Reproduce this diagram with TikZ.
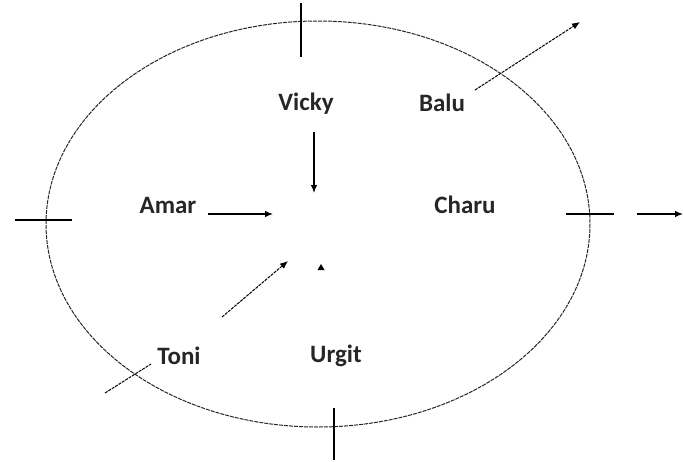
\documentclass[tikz,border=0pt]{standalone}
\usepackage{fontspec}
\setmainfont{Carlito}
\usetikzlibrary{arrows.meta}
\tikzset{
  lbl/.style={font=\fontsize{25}{27}\selectfont\bfseries, inner sep=0pt, text=black!85},
  tick/.style={line width=1.2pt, black},
  arr/.style={line width=1.2pt, -{Latex[length=8pt,width=6.5pt]}},
  darr/.style={line width=1pt, dash pattern=on 3pt off 1pt, -{Latex[length=8pt,width=6.5pt]}},
  dline/.style={line width=1pt, dash pattern=on 3pt off 1pt},
  rim/.style={line width=1pt, black!85, dash pattern=on 4pt off 1pt}
}
\begin{document}
\begin{tikzpicture}[x=1pt,y=-1pt]
\useasboundingbox (0,0) rectangle (683,461);
% outer circle
\draw[rim] (318,224) ellipse [x radius=272, y radius=203];
% ticks
\coordinate (t1) at (301,3);   \coordinate (t2) at (301,57);
\coordinate (l1) at (15,220);  \coordinate (l2) at (72,220);
\coordinate (r1) at (566,214); \coordinate (r2) at (614,214);
\coordinate (b1) at (334,408); \coordinate (b2) at (334,460);
\draw[tick] (t1) -- (t2);
\draw[tick] (l1) -- (l2);
\draw[tick] (r1) -- (r2);
\draw[tick] (b1) -- (b2);
% labels
\node[lbl] (vicky) at (306,104) {Vicky};
\node[lbl] (balu)  at (442,103) {Balu};
\node[lbl] (amar)  at (168,205) {Amar};
\node[lbl] (charu) at (465,205) {Charu};
\node[lbl] (toni)  at (179,356) {Toni};
\node[lbl] (urgit) at (336,356) {Urgit};
% arrows
\coordinate (vs) at (314,132); \coordinate (ve) at (314,193);
\coordinate (as) at (208,214); \coordinate (ae) at (273,214);
\coordinate (ts) at (222,317); \coordinate (te) at (288,261);
\coordinate (bs) at (475,90);  \coordinate (be) at (580,22);
\coordinate (cs) at (637,214); \coordinate (ce) at (683,214);
\coordinate (os) at (105,393); \coordinate (oe) at (151,364);
\draw[arr] (vs) -- (ve);
\draw[arr] (as) -- (ae);
\draw[darr] (ts) -- (te);
\draw[darr] (bs) -- (be);
\draw[arr] (cs) -- (ce);
\draw[dline] (os) -- (oe);
% small centre mark
\fill (317.5,270) -- (324.5,270) -- (321,264) -- cycle;
\end{tikzpicture}
\end{document}
